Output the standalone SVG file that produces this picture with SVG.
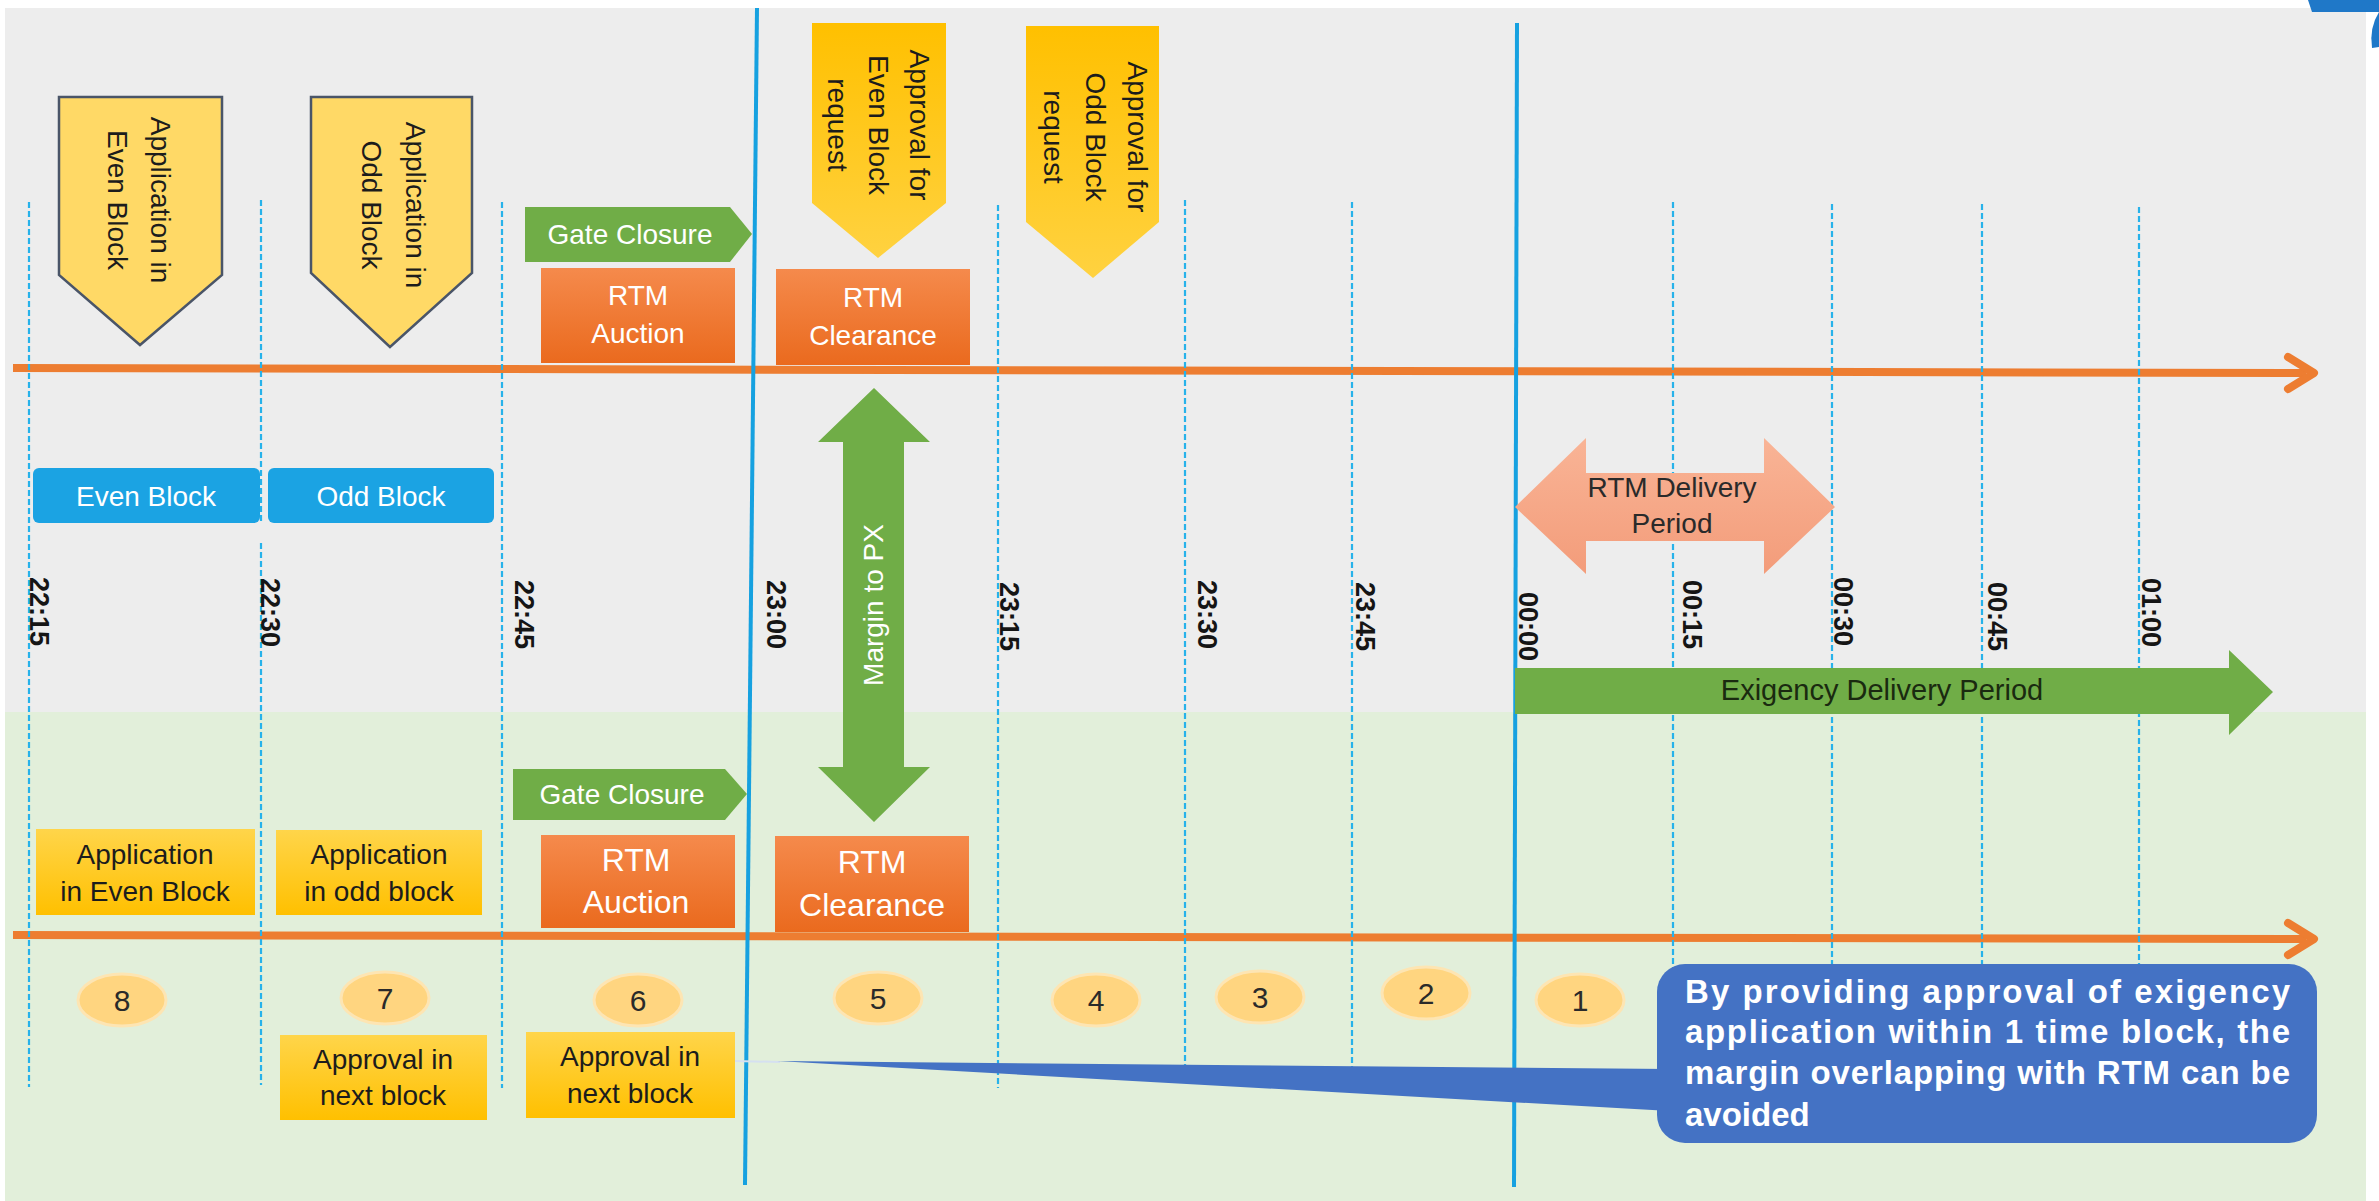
<svg xmlns="http://www.w3.org/2000/svg" width="2379" height="1201" viewBox="0 0 2379 1201">
<defs>
<style>
text{font-family:"Liberation Sans",Arial,sans-serif}
.dash{stroke:#27B2EA;stroke-width:2.2;stroke-dasharray:6 3;fill:none}
.solid{stroke:#16A1E0;stroke-width:4;fill:none}
.axis{stroke:#ED7D31;stroke-width:8;fill:none}
.axhead{stroke:#ED7D31;stroke-width:8;fill:none;stroke-linecap:round;stroke-linejoin:round}
.time{font-size:27px;font-weight:bold;fill:#151515}
.pent{fill:#FFD966;stroke:#4A5568;stroke-width:2.5}
.dark{fill:#1c1c1c;font-size:28px}
.white{fill:#fff}
.num{font-size:30px;fill:#2a2a2a;text-anchor:middle}
.circ{fill:#FFD580;stroke:#FDE5B3;stroke-width:3}
.gold{fill:url(#goldG)}
.org{fill:url(#orgG)}
.green{fill:#70AD47}
.blueBox{fill:#1BA3E3}
</style>
<linearGradient id="goldG" x1="0" y1="0" x2="0" y2="1">
<stop offset="0" stop-color="#FFD54A"/><stop offset="1" stop-color="#FFC000"/>
</linearGradient>
<linearGradient id="goldP" x1="0" y1="0" x2="0" y2="1">
<stop offset="0" stop-color="#FFC000"/><stop offset="1" stop-color="#FFD240"/>
</linearGradient>
<linearGradient id="orgG" x1="0" y1="0" x2="0" y2="1">
<stop offset="0" stop-color="#F58A4C"/><stop offset="1" stop-color="#EA6A1E"/>
</linearGradient>
<linearGradient id="salG" x1="0" y1="0" x2="0" y2="1">
<stop offset="0" stop-color="#F9B496"/><stop offset="1" stop-color="#F39C7A"/>
</linearGradient>
</defs>

<rect x="0" y="0" width="2379" height="1201" fill="#ffffff"/>
<rect x="5" y="8" width="2361" height="704" fill="#EDEDED"/>
<rect x="5" y="712" width="2361" height="489" fill="#E2EFDA"/>
<path d="M2308,0 H2379 V12 H2312 Z" fill="#1F78C8"/>
<path d="M2379,12 Q2369,28 2372,48 L2379,47 Z" fill="#1F78C8"/>

<g id="connectors">
<path class="axis" d="M13,368 L2306,373"/>
<path class="axhead" d="M2288,357 L2314,373 L2288,389"/>
<path class="axis" d="M13,935 L2306,939"/>
<path class="axhead" d="M2288,923 L2314,939 L2288,955"/>

<path class="dash" d="M29,202 V1087"/>
<path class="dash" d="M261,200 V523 M261,543 V1085"/>
<path class="dash" d="M502,202 V1088"/>
<path class="dash" d="M998,205 V1088"/>
<path class="dash" d="M1185,200 V1070"/>
<path class="dash" d="M1352,202 V1070"/>
<path class="dash" d="M1673,202 V1088"/>
<path class="dash" d="M1832,204 V1088"/>
<path class="dash" d="M1982,204 V1088"/>
<path class="dash" d="M2139,207 V1088"/>

<path class="solid" d="M757,8 L745,1185"/>
<path class="solid" d="M1517,23 L1514,1187"/>
<path d="M735,1061 L780,1062" stroke="#D5E0F0" stroke-width="2" fill="none"/>
</g>

<g id="times">
<text class="time" transform="translate(30,577) rotate(90)">22:15</text>
<text class="time" transform="translate(261,578) rotate(90)">22:30</text>
<text class="time" transform="translate(515,580) rotate(90)">22:45</text>
<text class="time" transform="translate(767,580) rotate(90)">23:00</text>
<text class="time" transform="translate(1000,582) rotate(90)">23:15</text>
<text class="time" transform="translate(1198,580) rotate(90)">23:30</text>
<text class="time" transform="translate(1356,582) rotate(90)">23:45</text>
<text class="time" transform="translate(1519,592) rotate(90)">00:00</text>
<text class="time" transform="translate(1683,580) rotate(90)">00:15</text>
<text class="time" transform="translate(1834,577) rotate(90)">00:30</text>
<text class="time" transform="translate(1988,582) rotate(90)">00:45</text>
<text class="time" transform="translate(2142,578) rotate(90)">01:00</text>
</g>

<g id="app-even-top">
<path class="pent" d="M59,97 H222 V275 L140,345 L59,275 Z"/>
<text class="dark" text-anchor="middle" transform="translate(151,200) rotate(90)"><tspan x="0" y="0">Application  in</tspan><tspan x="0" y="43">Even Block</tspan></text>
</g>
<g id="app-odd-top">
<path class="pent" d="M311,97 H472 V273 L390,347 L311,273 Z"/>
<text class="dark" text-anchor="middle" transform="translate(406,205) rotate(90)"><tspan x="0" y="0">Application  in</tspan><tspan x="0" y="44">Odd Block</tspan></text>
</g>
<g id="approval-even">
<path fill="url(#goldP)" d="M812,23 H946 V203 L878,258 L812,203 Z"/>
<text class="dark" text-anchor="middle" transform="translate(910,125) rotate(90)"><tspan x="0" y="0">Approval for</tspan><tspan x="0" y="41">Even Block</tspan><tspan x="0" y="82">request</tspan></text>
</g>
<g id="approval-odd">
<path fill="url(#goldP)" d="M1026,26 H1159 V222 L1093,278 L1026,222 Z"/>
<text class="dark" text-anchor="middle" transform="translate(1128,137) rotate(90)"><tspan x="0" y="0">Approval for</tspan><tspan x="0" y="42">Odd Block</tspan><tspan x="0" y="84">request</tspan></text>
</g>

<g id="gate-top">
<path class="green" d="M525,207 H730 L752,234 L730,262 H525 Z"/>
<text class="white" font-size="28" text-anchor="middle" x="630" y="244">Gate Closure</text>
</g>
<g id="rtm-auction-top">
<rect class="org" x="541" y="268" width="194" height="95"/>
<text class="white" font-size="28" text-anchor="middle"><tspan x="638" y="305">RTM</tspan><tspan x="638" y="343">Auction</tspan></text>
</g>
<g id="rtm-clearance-top">
<rect class="org" x="776" y="269" width="194" height="96"/>
<text class="white" font-size="28" text-anchor="middle"><tspan x="873" y="307">RTM</tspan><tspan x="873" y="345">Clearance</tspan></text>
</g>

<g id="margin-px">
<path class="green" d="M874,388 L930,442 H904 V767 H930 L874,822 L818,767 H843 V442 H818 Z"/>
<text class="white" font-size="28" text-anchor="middle" transform="translate(883,605) rotate(-90)">Margin to PX</text>
</g>

<g id="even-block">
<rect class="blueBox" x="33" y="468" width="227" height="55" rx="6"/>
<text class="white" font-size="28" text-anchor="middle" x="146" y="506">Even Block</text>
</g>
<g id="odd-block">
<rect class="blueBox" x="268" y="468" width="226" height="55" rx="6"/>
<text class="white" font-size="28" text-anchor="middle" x="381" y="506">Odd Block</text>
</g>

<g id="rtm-delivery">
<path fill="url(#salG)" d="M1515,507 L1586,438 V473 H1764 V438 L1835,507 L1764,574 V541 H1586 V574 Z"/>
<text fill="#2a2a2a" font-size="28" text-anchor="middle"><tspan x="1672" y="497">RTM Delivery</tspan><tspan x="1672" y="533">Period</tspan></text>
</g>
<g id="exigency-delivery">
<path class="green" d="M1515,668 H2229 V650 L2273,692 L2229,735 V714 H1515 Z"/>
<text fill="#1a2a10" font-size="29" text-anchor="middle" x="1882" y="700">Exigency Delivery Period</text>
</g>

<g id="gate-bottom">
<path class="green" d="M513,769 H725 L747,794 L725,820 H513 Z"/>
<text class="white" font-size="28" text-anchor="middle" x="622" y="804">Gate Closure</text>
</g>
<g id="app-even-bottom">
<rect class="gold" x="36" y="829" width="219" height="86"/>
<text class="dark" font-size="29" text-anchor="middle"><tspan x="145" y="864">Application</tspan><tspan x="145" y="901">in Even Block</tspan></text>
</g>
<g id="app-odd-bottom">
<rect class="gold" x="276" y="830" width="206" height="85"/>
<text class="dark" font-size="29" text-anchor="middle"><tspan x="379" y="864">Application</tspan><tspan x="379" y="901">in odd block</tspan></text>
</g>
<g id="rtm-auction-bottom">
<rect class="org" x="541" y="835" width="194" height="93"/>
<text class="white" font-size="32" text-anchor="middle"><tspan x="636" y="871">RTM</tspan><tspan x="636" y="913">Auction</tspan></text>
</g>
<g id="rtm-clearance-bottom">
<rect class="org" x="775" y="836" width="194" height="96"/>
<text class="white" font-size="32" text-anchor="middle"><tspan x="872" y="873">RTM</tspan><tspan x="872" y="916">Clearance</tspan></text>
</g>

<g id="n8"><ellipse class="circ" cx="122" cy="1000" rx="44" ry="26"/><text class="num" x="122" y="1011">8</text></g>
<g id="n7"><ellipse class="circ" cx="385" cy="998" rx="44" ry="26"/><text class="num" x="385" y="1009">7</text></g>
<g id="n6"><ellipse class="circ" cx="638" cy="1000" rx="44" ry="26"/><text class="num" x="638" y="1011">6</text></g>
<g id="n5"><ellipse class="circ" cx="878" cy="998" rx="44" ry="26"/><text class="num" x="878" y="1009">5</text></g>
<g id="n4"><ellipse class="circ" cx="1096" cy="1000" rx="44" ry="26"/><text class="num" x="1096" y="1011">4</text></g>
<g id="n3"><ellipse class="circ" cx="1260" cy="997" rx="44" ry="26"/><text class="num" x="1260" y="1008">3</text></g>
<g id="n2"><ellipse class="circ" cx="1426" cy="993" rx="44" ry="26"/><text class="num" x="1426" y="1004">2</text></g>
<g id="n1"><ellipse class="circ" cx="1580" cy="1000" rx="44" ry="26"/><text class="num" x="1580" y="1011">1</text></g>

<g id="approval-next-7">
<rect class="gold" x="280" y="1035" width="207" height="85"/>
<text class="dark" font-size="30" text-anchor="middle"><tspan x="383" y="1069">Approval in</tspan><tspan x="383" y="1105">next block</tspan></text>
</g>
<g id="approval-next-6">
<rect class="gold" x="526" y="1032" width="209" height="86"/>
<text class="dark" font-size="30" text-anchor="middle"><tspan x="630" y="1066">Approval in</tspan><tspan x="630" y="1103">next block</tspan></text>
</g>

<g id="callout">
<path fill="#4472C4" d="M777,1061 L1670,1069 L1670,1111 Z"/>
<rect x="1657" y="964" width="660" height="179" rx="28" fill="#4472C4"/>
<text class="white" font-size="33" font-weight="bold">
<tspan x="1685" y="1003" textLength="605" lengthAdjust="spacing">By providing approval of exigency</tspan>
<tspan x="1685" y="1043" textLength="605" lengthAdjust="spacing">application within 1 time block, the</tspan>
<tspan x="1685" y="1084" textLength="605" lengthAdjust="spacing">margin overlapping with RTM can be</tspan>
<tspan x="1685" y="1126">avoided</tspan>
</text>
</g>
</svg>
